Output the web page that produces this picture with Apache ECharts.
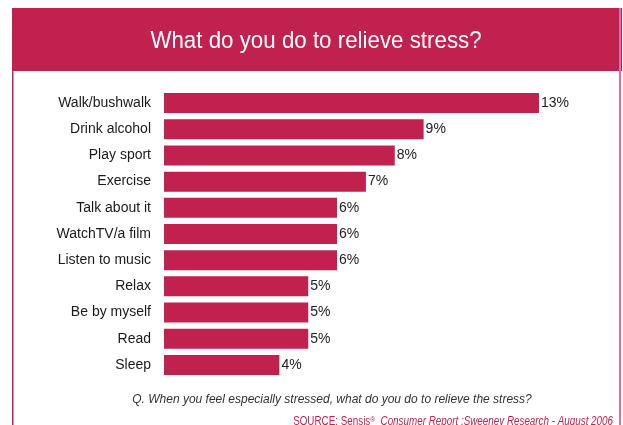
<!DOCTYPE html>
<html>
<head>
<meta charset="utf-8">
<style>
  html, body { margin: 0; padding: 0; background: #fff; }
  #chart { width: 623px; height: 425px; }
</style>
<script src="https://cdn.jsdelivr.net/npm/echarts@6/dist/echarts.min.js"></script>
</head>
<body>
<div id="chart"></div>
<script>
// Survey answers, top to bottom
const categories = [
  'Walk/bushwalk', 'Drink alcohol', 'Play sport', 'Exercise', 'Talk about it',
  'WatchTV/a film', 'Listen to music', 'Relax', 'Be by myself', 'Read', 'Sleep'
];
// Share of respondents (%)
const values = [13, 9, 8, 7, 6, 6, 6, 5, 5, 5, 4];

const titleText = 'What do you do to relieve stress?';
const questionText = 'Q. When you feel especially stressed, what do you do to relieve the stress?';

const crimson = '#C1214F';
const sans = '"Liberation Sans", Arial, sans-serif';

const chart = echarts.init(document.getElementById('chart'), null, { renderer: 'canvas' });

chart.setOption({
  animation: false,
  backgroundColor: '#fff',
  grid: { left: 164, right: 84, top: 90, height: 288, containLabel: false },
  xAxis: {
    type: 'value',
    min: 0,
    max: 13,
    show: false
  },
  yAxis: {
    type: 'category',
    data: categories,
    inverse: true,
    axisLine: { show: false },
    axisTick: { show: false },
    splitLine: { show: false },
    axisLabel: {
      margin: 13,
      color: '#1a1a1a',
      fontFamily: sans,
      fontSize: 14
    }
  },
  series: [{
    type: 'bar',
    data: values,
    barWidth: 20,
    itemStyle: { color: crimson },
    label: {
      show: true,
      position: 'right',
      distance: 2,
      formatter: '{c}%',
      color: '#222',
      fontFamily: sans,
      fontSize: 14
    }
  }],
  graphic: [
    // header band
    { type: 'rect', shape: { x: 12, y: 8, width: 610, height: 63 }, style: { fill: crimson }, silent: true },
    // side rules of the frame
    { type: 'rect', shape: { x: 12, y: 8, width: 1.5, height: 417 }, style: { fill: crimson }, silent: true },
    { type: 'rect', shape: { x: 619, y: 8, width: 2, height: 417 }, style: { fill: '#D8739A' }, silent: true },
    {
      type: 'text', x: 316, y: 41, scaleX: 0.93,
      style: {
        text: titleText,
        fill: '#fff',
        align: 'center',
        verticalAlign: 'middle',
        font: '24px ' + sans
      },
      silent: true
    },
    {
      type: 'text', x: 332, y: 400,
      style: {
        text: questionText,
        fill: '#333',
        align: 'center',
        verticalAlign: 'middle',
        font: 'italic 12px ' + sans
      },
      silent: true
    },
    {
      type: 'text', x: 613, y: 422, scaleX: 0.82,
      style: {
        text: '{n|SOURCE: Sensis}{s|®}{i|  Consumer Report :Sweeney Research - August 2006}',
        align: 'right',
        verticalAlign: 'middle',
        rich: {
          n: { fill: crimson, font: '12px ' + sans },
          s: { fill: crimson, font: '8px ' + sans, verticalAlign: 'top' },
          i: { fill: crimson, font: 'italic 12px ' + sans }
        }
      },
      silent: true
    }
  ]
});
</script>
</body>
</html>
